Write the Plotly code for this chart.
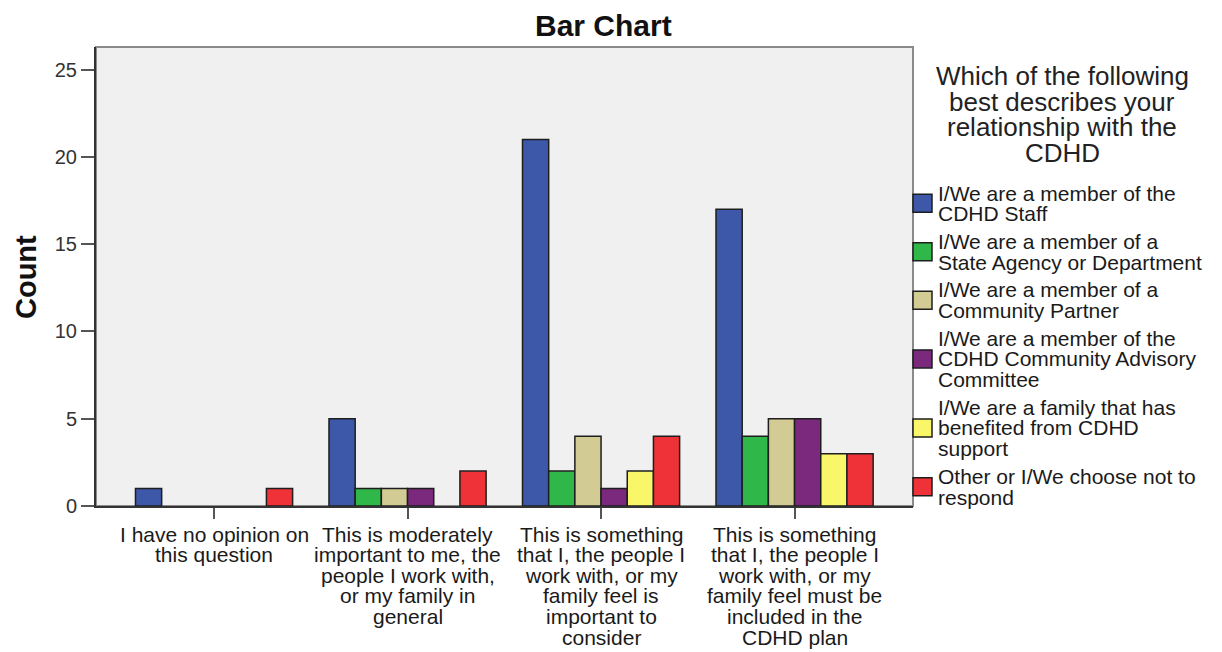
import plotly.graph_objects as go

# ---------------- data ----------------
categories = [
    "I have no opinion on<br>this question",
    "This is moderately<br>important to me, the<br>people I work with,<br>or my family in<br>general",
    "This is something<br>that I, the people I<br>work with, or my<br>family feel is<br>important to<br>consider",
    "This is something<br>that I, the people I<br>work with, or my<br>family feel must be<br>included in the<br>CDHD plan",
]
series_names = [
    "I/We are a member of the<br>CDHD Staff",
    "I/We are a member of a<br>State Agency or Department",
    "I/We are a member of a<br>Community Partner",
    "I/We are a member of the<br>CDHD Community Advisory<br>Committee",
    "I/We are a family that has<br>benefited from CDHD<br>support",
    "Other or I/We choose not to<br>respond",
]
staff = [1, 5, 21, 17]
state_agency = [0, 1, 2, 4]
community_partner = [0, 1, 4, 5]
advisory = [0, 1, 1, 5]
family = [0, 0, 2, 3]
other = [1, 2, 4, 3]
series_values = [staff, state_agency, community_partner, advisory, family, other]
colors = ["#3D57A9", "#30B74A", "#D2CB93", "#7A297D", "#FAF66A", "#EE3237"]
legend_title = "Which of the following<br>best describes your<br>relationship with the<br>CDHD"
y_ticks = [0, 5, 10, 15, 20, 25]

# ---------------- layout geometry (window pixels) ----------------
OFF = 8  # the page body has an 8px margin; compensate so window pixels match
W, H = 1222 - OFF, 652 - OFF
PL, PR, PT, PB = 96, 913, 47, 506  # plot area edges in window pixels
FONT = "Liberation Sans, Arial, sans-serif"


def px2x(px):
    return (px - PL) / (PR - PL)


def py2y(py):
    return (PB - py) / (PB - PT)


fig = go.Figure()
for name, vals, col in zip(series_names, series_values, colors):
    fig.add_trace(go.Bar(
        x=list(range(len(categories))),
        y=[v if v else None for v in vals],
        name=name.replace("<br>", " "),
        marker=dict(color=col, line=dict(color="#1E1E1E", width=1.5)),
        showlegend=False,
    ))

annotations = []
shapes = []

# title
annotations.append(dict(text="<b>Bar Chart</b>", xref="paper", yref="paper",
                        x=px2x(603), y=py2y(26), xanchor="center", yanchor="middle",
                        showarrow=False, font=dict(size=30, color="#111111", family=FONT)))
# y-axis title
annotations.append(dict(text="<b>Count</b>", xref="paper", yref="paper",
                        x=px2x(26), y=py2y(277), xanchor="center", yanchor="middle",
                        textangle=-90, showarrow=False,
                        font=dict(size=29, color="#111111", family=FONT)))

# x tick labels, one annotation per line (tight line spacing as in the reference)
LINE = 20.6
for i, cat in enumerate(categories):
    for j, line in enumerate(cat.split("<br>")):
        annotations.append(dict(text=line, xref="x", yref="paper", x=i,
                                y=py2y(534 + LINE * j), xanchor="center", yanchor="middle",
                                showarrow=False,
                                font=dict(size=21, color="#1A1A1A", family=FONT)))

# legend title
for j, line in enumerate(legend_title.split("<br>")):
    annotations.append(dict(text=line, xref="paper", yref="paper", x=px2x(1062),
                            y=py2y(76 + 25.5 * j), xanchor="center", yanchor="middle",
                            showarrow=False, font=dict(size=26, color="#222222", family=FONT)))

# legend items
LLINE, LGAP = 20.7, 7.0
cur = 193.0
for name, col in zip(series_names, colors):
    lines = name.split("<br>")
    ys = [cur + LLINE * k for k in range(len(lines))]
    for ln, yy in zip(lines, ys):
        annotations.append(dict(text=ln, xref="paper", yref="paper", x=px2x(936),
                                y=py2y(yy), xanchor="left", yanchor="middle",
                                showarrow=False,
                                font=dict(size=21, color="#1A1A1A", family=FONT)))
    mid = (ys[0] + ys[-1]) / 2
    shapes.append(dict(type="rect", xref="paper", yref="paper",
                       x0=px2x(913), x1=px2x(932), y0=py2y(mid - 9), y1=py2y(mid + 9),
                       fillcolor=col, line=dict(color="#1E1E1E", width=1.5), layer="above"))
    cur = ys[-1] + LLINE + LGAP

# gray frame (top/right)
shapes.append(dict(type="rect", xref="paper", yref="paper", x0=0, x1=1, y0=0, y1=1,
                   line=dict(color="#8A8A8A", width=2), fillcolor="rgba(0,0,0,0)",
                   layer="below"))

fig.update_layout(
    width=W, height=H,
    margin=dict(l=PL - OFF, r=(W + OFF) - PR, t=PT - OFF, b=(H + OFF) - PB, autoexpand=False),
    paper_bgcolor="white", plot_bgcolor="#F0F0F0",
    barmode="group", bargap=0.188, bargroupgap=0,
    font=dict(family=FONT, size=16, color="#222222"),
    showlegend=False,
    xaxis=dict(
        tickmode="array", tickvals=list(range(len(categories))), showticklabels=False,
        range=[-0.610, 3.612], showgrid=False, zeroline=False, automargin=False,
        showline=True, linecolor="#333333", linewidth=2,
        ticks="outside", ticklen=11, tickwidth=2, tickcolor="#555555",
    ),
    yaxis=dict(
        range=[0, 26.3], tickmode="array", tickvals=y_ticks, showgrid=False, zeroline=False,
        automargin=False, showline=True, linecolor="#333333", linewidth=2,
        ticks="outside", ticklen=13, tickwidth=2, tickcolor="#555555",
        tickfont=dict(size=20, color="#333333", family=FONT),
    ),
    annotations=annotations,
    shapes=shapes,
)
fig.write_html("out.html")
